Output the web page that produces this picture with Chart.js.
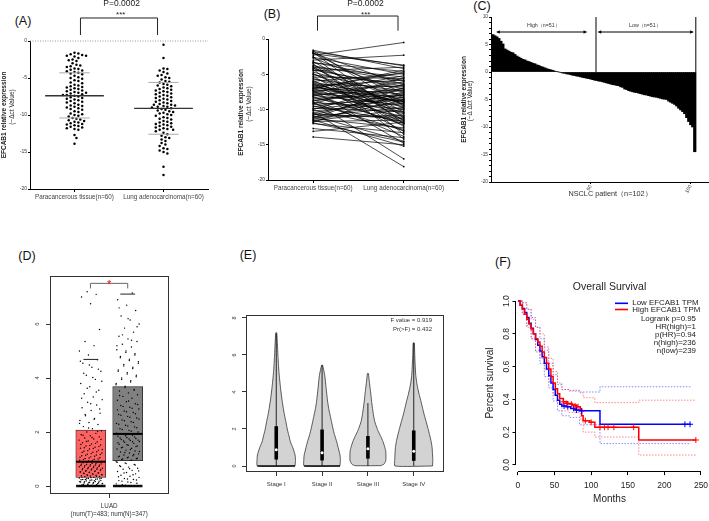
<!DOCTYPE html>
<html><head><meta charset="utf-8">
<script src="https://cdn.jsdelivr.net/npm/chart.js@4.4.1/dist/chart.umd.min.js"></script>
<style>
html,body{margin:0;padding:0;background:#fff}
body{width:709px;height:521px;position:relative;overflow:hidden;font-family:"Liberation Sans",Arial,sans-serif}
.pl{position:absolute;font-size:12.5px;color:#111;transform:translate(-50%,-50%);white-space:nowrap;line-height:1}
</style></head><body>
<div class="pl" style="left:23px;top:21px">(A)</div>
<div class="pl" style="left:272px;top:14px">(B)</div>
<div class="pl" style="left:482px;top:6px">(C)</div>
<div class="pl" style="left:27px;top:256px">(D)</div>
<div class="pl" style="left:248px;top:255px">(E)</div>
<div class="pl" style="left:503px;top:262px">(F)</div>
<script>
// ---------- DATA ----------
const A_CATS = ['Paracancerous tissue(n=60)', 'Lung adenocarcinoma(n=60)'];
const A_YT = [-20, -15, -10, -5, 0];
// paired samples (same order used in panel B)
const A_PARA = [-1.6,-1.7,-1.8,-1.9,-2.0,-2.0,-2.3,-2.5,-2.6,-2.7,-3.0,-3.2,-3.4,-3.5,-3.7,-3.8,-3.9,-4.0,-4.1,-4.2,-4.3,-4.5,-4.7,-4.9,-5.1,-5.3,-5.4,-5.6,-5.7,-5.9,-6.0,-6.1,-6.3,-6.4,-6.6,-6.7,-6.8,-6.9,-7.0,-7.1,-7.2,-7.3,-7.3,-7.4,-7.5,-7.6,-7.7,-7.8,-7.9,-8.0,-8.1,-8.3,-8.4,-8.6,-8.7,-8.9,-9.0,-9.2,-9.3,-9.5,-9.6,-9.8,-10.0,-10.1,-10.2,-10.4,-10.5,-10.6,-10.8,-10.9,-11.0,-11.1,-11.2,-11.3,-11.4,-11.5,-11.6,-11.7,-11.8,-12.0,-12.7,-13.1,-13.9,-2.1,-3.3,-6.2,-8.2,-9.9,-5.0,-7.0,-4.4,-9.1,-10.7,-8.8,-6.5,-11.9];
const A_LUNG = [-4.2,-9.5,-3.8,-11.2,-6.5,-8.4,-0.5,-12.0,-5.0,-7.6,-2.3,-10.4,-4.6,-13.5,-8.9,-6.0,-11.6,-5.4,-9.8,-7.1,-14.2,-4.0,-8.1,-10.9,-6.3,-12.4,-5.6,-9.2,-7.4,-11.9,-4.9,-8.6,-13.1,-6.8,-10.1,-5.8,-9.0,-7.8,-11.4,-4.4,-8.3,-14.8,-6.6,-9.6,-10.6,-5.2,-8.8,-12.2,-7.2,-9.4,-6.1,-11.0,-8.0,-13.8,-7.0,-17.0,-9.9,-5.5,-8.5,-11.7,-7.9,-10.3,-6.4,-12.8,-9.1,-18.1,-8.2,-11.3,-7.5,-14.5,-9.7,-10.8,-6.9,-12.6,-8.7,-15.2,-10.0,-11.5,-7.7,-13.3,-14.0,-11.8,-15.0,-3.7,-5.9,-10.5,-12.0,-8.6,-9.3,-4.7,-6.7,-13.0,-11.1,-7.3,-8.9,-14.6];
const A_MEAN = [-7.4, -9.1];
const A_SD_HI = [-4.3, -5.6];
const A_SD_LO = [-10.4, -12.6];
const P_TEXT = 'P=0.0002';

const C_VALUES = [6.8,6.6,6.4,6.1,5.6,5.1,4.2,4.0,3.8,3.6,3.5,3.2,2.9,2.7,2.5,2.3,2.2,2.0,1.9,1.75,1.6,1.5,1.3,1.2,1.0,0.9,0.75,0.6,0.5,0.4,0.3,0.15,0.1,0.0,-0.1,-0.2,-0.25,-0.35,-0.4,-0.5,-0.6,-0.65,-0.75,-0.8,-0.9,-1.0,-1.05,-1.15,-1.2,-1.3,-1.4,-1.5,-1.55,-1.65,-1.7,-1.8,-1.9,-2.0,-2.1,-2.2,-2.3,-2.35,-2.45,-2.5,-2.7,-2.8,-3.1,-3.2,-3.4,-3.5,-3.6,-3.7,-3.75,-3.85,-3.95,-4.05,-4.15,-4.2,-4.3,-4.4,-4.5,-4.55,-4.6,-4.7,-4.8,-4.9,-4.95,-5.0,-5.3,-5.5,-5.7,-5.9,-6.2,-6.6,-6.9,-7.2,-7.6,-8.3,-9.0,-9.6,-10.0,-14.5];
const C_XT = [50, 100];
const C_YT = [-20, -15, -10, -5, 0, 5, 10];

const D_TUMOR = [0,0,0,0,0,0,0,0,0,0,0,0,0,0,0,0,0.02,0.04,0.05,0.07,0.08,0.1,0.11,0.12,0.14,0.15,0.17,0.19,0.2,0.22,0.24,0.26,0.28,0.3,0.32,0.34,0.35,0.37,0.38,0.4,0.42,0.43,0.45,0.47,0.48,0.5,0.52,0.54,0.55,0.57,0.59,0.6,0.62,0.64,0.66,0.68,0.7,0.72,0.74,0.76,0.78,0.8,0.82,0.84,0.86,0.9,0.93,0.96,0.99,1.02,1.05,1.08,1.12,1.15,1.18,1.22,1.25,1.29,1.33,1.37,1.4,1.44,1.48,1.52,1.56,1.6,1.63,1.67,1.7,1.74,1.78,1.82,1.86,1.9,1.95,2.0,2.05,2.12,2.2,2.28,2.35,2.43,2.5,2.6,2.7,2.8,2.9,3.0,3.1,3.2,3.3,3.42,3.55,3.68,3.8,3.95,4.1,4.25,4.4,4.55,4.68,4.85,5.0,5.2,5.35,5.8,6.75,7.0,7.1,7.2,
  0,0,0,0,0,0,0,0,0,0,0.01,0.03,0.06,0.09,0.13,0.16,0.18,0.21,0.23,0.25,0.27,0.29,0.03,0.06,0.09,0.12,0.16,0.2,0.24,0.27,0.31,0.33,0.36,0.39,0.41,0.44,0.46,0.49,0.51,0.53,0.56,0.58,0.61,0.63,0.65,0.67,0.69,0.71,0.73,0.75,0.77,0.79,0.81,0.83,0.87,0.91,0.95,0.98,1.0,1.04,1.07,1.1,1.14,1.17,1.2,1.24,1.27,1.31,1.35,1.39,1.42,1.46,1.5,1.54,1.58,1.65,1.72,1.8,1.88,2.02,2.15,2.32,2.47,2.65,2.85,3.05,3.25,3.48,3.62,3.88,4.02,4.18,4.33,4.48,4.62];
const D_NORMAL = [0,0,0,0,0,0,0,0,0.05,0.1,0.15,0.2,0.24,0.28,0.32,0.36,0.4,0.45,0.5,0.54,0.58,0.62,0.66,0.7,0.75,0.8,0.85,0.9,0.95,0.98,1.01,1.05,1.08,1.12,1.15,1.19,1.22,1.26,1.3,1.33,1.37,1.4,1.44,1.48,1.51,1.55,1.58,1.62,1.65,1.69,1.72,1.76,1.8,1.84,1.88,1.93,2.0,2.06,2.12,2.19,2.25,2.32,2.38,2.45,2.52,2.58,2.65,2.72,2.78,2.85,2.92,2.98,3.05,3.12,3.18,3.25,3.32,3.38,3.45,3.52,3.58,3.65,3.75,3.85,3.95,4.05,4.15,4.25,4.35,4.45,4.55,4.65,4.75,4.85,4.95,5.05,5.15,5.25,5.35,5.45,5.55,5.7,5.85,6.0,6.15,6.3,6.5,6.7,6.9,7.15,
  0,0,0,0,0,0.03,0.08,0.13,0.18,0.22,0.26,0.34,0.42,0.48,0.56,0.64,0.72,0.78,0.83,0.88,0.96,1.0,1.03,1.07,1.1,1.17,1.24,1.28,1.35,1.42,1.46,1.53,1.6,1.64,1.67,1.7,1.74,1.78,1.82,1.86,1.96,2.03,2.09,2.16,2.22,2.29,2.35,2.42,2.48,2.55,2.62,2.68,2.75,2.82,2.88,2.95,3.02,3.15,3.35,3.55,3.7,3.8,3.9,4.0,4.1,4.2,4.3,4.4,4.5,4.6,4.7,4.8,4.9,5.0,5.2,5.4,5.6,5.9,6.2,6.6];
const D_Q1 = [0.32, 0.94];
const D_MED = [0.9, 1.93];
const D_Q3 = [2.07, 3.68];
const D_WHI = [4.69, 7.11];
const D_YT = [0, 2, 4, 6];
const D_XLABEL = ['LUAD', '(num(T)=483; num(N)=347)'];

const E_STAGES = ['Stage I', 'Stage II', 'Stage III', 'Stage IV'];
const E_YT = [0, 2, 4, 6, 8];
const E_Q1 = [0.35, 0.3, 0.4, 0.28];
const E_MED = [0.88, 0.72, 0.93, 0.8];
const E_Q3 = [2.15, 1.97, 1.62, 1.92];
const E_WTOP = [7.15, 5.45, 3.4, 6.65];
const E_V1_Y = [0,0.3,0.6,1.0,1.3,1.7,2.0,2.4,2.75,3.1,3.5,4.2,5.1,6.0,6.6,7.2];
const E_V1_W = [0.41,0.42,0.41,0.36,0.31,0.27,0.24,0.21,0.18,0.155,0.13,0.094,0.058,0.036,0.025,0.01];
const E_V2_Y = [0,0.3,0.6,1.0,1.3,1.7,2.0,2.4,2.75,3.1,3.5,4.2,4.9,5.45];
const E_V2_W = [0.39,0.4,0.39,0.35,0.32,0.27,0.24,0.205,0.175,0.145,0.12,0.088,0.058,0.01];
const E_V3_Y = [0.02,0.1,0.3,0.77,1.0,1.31,1.6,1.85,2.1,2.39,2.7,3.11,3.5,3.83,4.2,4.55,5.0];
const E_V3_W = [0.28,0.35,0.39,0.39,0.37,0.33,0.28,0.23,0.19,0.15,0.125,0.1,0.08,0.066,0.048,0.03,0.01];
const E_V4_Y = [0,0.3,0.6,1.0,1.31,1.7,2.03,2.4,2.75,3.1,3.47,3.8,4.19,4.5,4.9,5.5,6.1,6.65];
const E_V4_W = [0.41,0.415,0.41,0.4,0.38,0.345,0.31,0.27,0.23,0.195,0.16,0.125,0.088,0.065,0.044,0.03,0.02,0.012];
const E_STATS = ['F value = 0.919', 'Pr(>F) = 0.432'];

const F_XT = [0, 50, 100, 150, 200, 250];
const F_YT = [0, 0.2, 0.4, 0.6, 0.8, 1.0];
const LOW_T = [0,3,6,9,12,15,18,21,24,27,30,33,36,39,42,45,48,51,54,57,60,66,72,78,84,112,236];
const LOW_S = [1,0.975,0.955,0.93,0.9,0.865,0.835,0.8,0.765,0.73,0.695,0.66,0.62,0.585,0.545,0.5,0.46,0.425,0.395,0.37,0.36,0.355,0.345,0.335,0.33,0.248,0.248];
const HIGH_T = [0,3,6,9,12,15,18,21,24,27,30,33,36,39,42,45,48,51,54,57,62,68,74,80,85,87,89,98,105,165,243];
const HIGH_S = [1,0.975,0.95,0.92,0.89,0.86,0.83,0.8,0.77,0.75,0.725,0.69,0.655,0.62,0.585,0.54,0.5,0.465,0.435,0.405,0.385,0.375,0.365,0.355,0.34,0.3,0.27,0.26,0.23,0.152,0.152];
const LOW_CI_T = [0,6,12,18,24,30,36,42,48,54,60,70,84,112,236];
const LOW_CI_UP = [1,0.99,0.95,0.9,0.84,0.77,0.7,0.62,0.55,0.49,0.46,0.455,0.445,0.477,0.477];
const LOW_CI_LO = [1,0.92,0.85,0.77,0.69,0.62,0.54,0.47,0.39,0.33,0.3,0.29,0.245,0.13,0.13];
const HIGH_CI_T = [0,6,12,18,24,30,36,42,48,54,60,70,85,89,105,165,243];
const HIGH_CI_UP = [1,0.99,0.95,0.89,0.84,0.8,0.72,0.65,0.57,0.5,0.46,0.45,0.44,0.41,0.38,0.395,0.395];
const HIGH_CI_LO = [1,0.92,0.84,0.77,0.7,0.65,0.58,0.51,0.43,0.37,0.33,0.32,0.28,0.2,0.17,0.06,0.06];
const LOW_CENS_T = [63,68,76,80,87,228,235];
const LOW_CENS_S = [0.36,0.355,0.345,0.335,0.33,0.248,0.248];
const HIGH_CENS_T = [62,66,73,78,82,92,100,112,118,123,131,158,243];
const HIGH_CENS_S = [0.385,0.375,0.37,0.36,0.355,0.27,0.26,0.23,0.23,0.23,0.23,0.23,0.152];
const F_LEGEND = ['Low EFCAB1 TPM', 'High EFCAB1 TPM'];
const F_STATS = ['Logrank p=0.95', 'HR(high)=1', 'p(HR)=0.94', 'n(high)=236', 'n(low)=239'];

// ---------- HELPERS ----------
const FF = '"Liberation Sans", Arial, sans-serif';
const fnt = (s, w) => (w ? w + ' ' : '') + s + 'px ' + FF;
Chart.defaults.font.family = FF;
Chart.defaults.color = '#333';

function dm(a, b) { for (const k in b) { if (b[k] && typeof b[k] === 'object' && !Array.isArray(b[k]) && a[k] && typeof a[k] === 'object') dm(a[k], b[k]); else a[k] = b[k]; } return a; }
function axis(extra) {
  return dm({ type: 'linear', offset: false, border: { display: true, color: '#000', width: 1 },
    grid: { display: true, offset: false, drawOnChartArea: false, drawTicks: true, tickLength: 3, color: '#000', lineWidth: 1 },
    ticks: { autoSkip: false, maxRotation: 0, minRotation: 0, padding: 1, color: '#333', font: { size: 6 } } }, extra);
}
const setTicks = arr => s => { s.ticks = arr.map(v => ({ value: v })); };

function annoPlugin(items) {
  return { id: 'anno', afterDraw(chart) {
    const ctx = chart.ctx, xs = chart.scales.x, ys = chart.scales.y;
    const P = p => [p.px !== undefined ? p.px : xs.getPixelForValue(p.x), p.py !== undefined ? p.py : ys.getPixelForValue(p.y)];
    for (const it of items) {
      ctx.save();
      ctx.setLineDash(it.dash || []);
      ctx.strokeStyle = it.c || '#000'; ctx.fillStyle = it.c || '#000'; ctx.lineWidth = it.w || 1;
      if (it.t === 'frame') { const a = chart.chartArea; ctx.strokeRect(Math.round(a.left) + 0.5, Math.round(a.top) + 0.5, Math.round(a.right - a.left) - 1, Math.round(a.bottom - a.top) - 1); }
      else if (it.t === 'line') { ctx.beginPath(); it.pts.forEach((p, i) => { const q = P(p); i ? ctx.lineTo(q[0], q[1]) : ctx.moveTo(q[0], q[1]); }); ctx.stroke(); }
      else if (it.t === 'arrow') {
        const a = P(it.a), b = P(it.b), h = it.h || 4;
        ctx.beginPath(); ctx.moveTo(a[0], a[1]); ctx.lineTo(b[0], b[1]); ctx.stroke();
        [[a, b], [b, a]].forEach(([p, q]) => { const g = Math.atan2(q[1] - p[1], q[0] - p[0]);
          ctx.beginPath(); ctx.moveTo(p[0], p[1]); ctx.lineTo(p[0] + h * Math.cos(g + 0.5), p[1] + h * Math.sin(g + 0.5));
          ctx.lineTo(p[0] + h * Math.cos(g - 0.5), p[1] + h * Math.sin(g - 0.5)); ctx.closePath(); ctx.fill(); });
      }
      else if (it.t === 'text') { const q = P(it); ctx.font = it.f; ctx.textAlign = it.al || 'center'; ctx.textBaseline = 'middle';
        ctx.translate(q[0], q[1]); if (it.rot) ctx.rotate(it.rot * Math.PI / 180); ctx.fillText(it.s, 0, 0); }
      ctx.restore();
    }
  } };
}

function mk(x, y, w, h, area, cfg, items) {
  const c = document.createElement('canvas');
  c.width = w; c.height = h;
  c.style.cssText = 'position:absolute;left:' + x + 'px;top:' + y + 'px;width:' + w + 'px;height:' + h + 'px';
  document.body.appendChild(c);
  const [L, T, R, B] = area;
  const o = cfg.options;
  // Chart.js paints the last dataset first; reverse so list order = paint order (first = bottom)
  cfg.data.datasets.reverse();
  o.responsive = false; o.animation = false; o.devicePixelRatio = 1; o.events = [];
  o.layout = { padding: { left: 0, top: T, right: w - R, bottom: 0 } };
  o.plugins = { legend: { display: false }, tooltip: { enabled: false } };
  o.scales.x.afterFit = s => { s.height = h - B; s.paddingLeft = 0; s.paddingRight = 0; };
  o.scales.y.afterFit = s => { s.width = L; s.paddingTop = 0; s.paddingBottom = 0; };
  cfg.plugins = [annoPlugin(items || [])];
  return new Chart(c, cfg);
}
const hline = (x0, x1, yv, color, wd, extra) => Object.assign({ type: 'line', data: [{ x: x0, y: yv }, { x: x1, y: yv }], borderColor: color, borderWidth: wd, pointRadius: 0, fill: false }, extra || {});
const vline = (xv, y0, y1, color, wd, extra) => Object.assign({ type: 'line', data: [{ x: xv, y: y0 }, { x: xv, y: y1 }], borderColor: color, borderWidth: wd, pointRadius: 0, fill: false }, extra || {});

function swarm(vals, ppy, ppx, d) {
  const order = vals.map((v, i) => i).sort((a, b) => vals[b] - vals[a]);
  const placed = [], off = new Array(vals.length).fill(0);
  for (const i of order) {
    const py = vals[i] * ppy;
    for (let k = 0; k < 300; k++) {
      const cc = (k === 0 ? 0 : (k % 2 ? 1 : -1) * Math.ceil(k / 2)) * d * 0.55;
      let ok = true;
      for (const p of placed) { const dy = p[1] - py, dx = p[0] - cc; if (dx * dx + dy * dy < d * d) { ok = false; break; } }
      if (ok) { placed.push([cc, py]); off[i] = cc / ppx; break; }
    }
  }
  return off;
}

// ---------- PANEL A ----------
(function () {
  const oL = swarm(A_PARA, 7.4, 89, 3.5), oR = swarm(A_LUNG, 7.4, 89, 3.5);
  const ds = [
    hline(0.5, 2.5, 0, '#999', 1, { borderDash: [1, 1.5], clip: false }),
    { data: A_PARA.map((v, i) => ({ x: 1 + oL[i], y: v })), pointRadius: 1.25, backgroundColor: '#000', borderWidth: 0 },
    { data: A_LUNG.map((v, i) => ({ x: 2 + oR[i], y: v })), pointRadius: 1.25, backgroundColor: '#000', borderWidth: 0 }
  ];
  [0, 1].forEach(g => {
    const cx = g + 1;
    ds.push(hline(cx - 0.33, cx + 0.33, A_MEAN[g], '#333', 1.3));
    ds.push(hline(cx - 0.17, cx + 0.17, A_SD_HI[g], '#aaa', 1));
    ds.push(hline(cx - 0.17, cx + 0.17, A_SD_LO[g], '#aaa', 1));
  });
  mk(0, 0, 230, 215, [30, 41, 208, 189], { type: 'scatter', data: { datasets: ds }, options: { scales: {
    x: axis({ min: 0.5, max: 2.5, afterBuildTicks: setTicks([1, 2]), ticks: { callback: (v, i) => A_CATS[i], font: { size: 6.3 }, color: '#444', padding: 1 } }),
    y: axis({ min: -20, max: 0, afterBuildTicks: setTicks(A_YT), grid: { tickLength: 2 }, ticks: { callback: v => String(v), font: { size: 5 }, padding: 1 } })
  } } }, [
    { t: 'line', pts: [{ x: 1.067, y: 0.81 }, { x: 1.067, y: 3.11 }, { x: 1.933, y: 3.11 }, { x: 1.933, y: 0.81 }], c: '#222', w: 1 },
    { t: 'text', s: '***', x: 1.52, y: 3.55, f: fnt(8), c: '#222' },
    { t: 'text', s: P_TEXT, x: 1.53, y: 5.0, f: fnt(8.5), c: '#222' },
    { t: 'text', s: 'EFCAB1 relative expression', px: 4.5, py: 115, rot: -90, f: fnt(6.5, 'bold'), c: '#222' },
    { t: 'text', s: '(−Δct Value)', px: 12, py: 107, rot: -90, f: fnt(6.5), c: '#222' }
  ]);
})();

// ---------- PANEL B ----------
(function () {
  const ds = A_PARA.map((v, i) => ({ type: 'line', data: [{ x: 1, y: v }, { x: 2, y: A_LUNG[i] }], borderColor: '#000', borderWidth: 0.7,
    pointRadius: 1.1, pointStyle: 'rect', pointBackgroundColor: '#000', pointBorderWidth: 0, fill: false }));
  mk(230, 0, 240, 215, [38, 39, 228, 180], { type: 'scatter', data: { datasets: ds }, options: { scales: {
    x: axis({ min: 0.5, max: 2.6, afterBuildTicks: setTicks([1, 2]), ticks: { callback: (v, i) => A_CATS[i], font: { size: 6.3 }, color: '#444', padding: 1.5 } }),
    y: axis({ min: -20, max: 0, afterBuildTicks: setTicks(A_YT), grid: { tickLength: 2 }, ticks: { callback: v => String(v), font: { size: 5 }, padding: 1 } })
  } } }, [
    { t: 'line', pts: [{ x: 1.047, y: 1.18 }, { x: 1.047, y: 3.26 }, { x: 1.937, y: 3.26 }, { x: 1.937, y: 1.18 }], c: '#222', w: 1 },
    { t: 'text', s: '***', x: 1.58, y: 3.45, f: fnt(8), c: '#222' },
    { t: 'text', s: P_TEXT, x: 1.577, y: 4.96, f: fnt(8.5), c: '#222' },
    { t: 'text', s: 'EFCAB1 relative expression', px: 11.5, py: 112.5, rot: -90, f: fnt(6.5, 'bold'), c: '#222' },
    { t: 'text', s: '(−Δct Value)', px: 19, py: 104, rot: -90, f: fnt(6.5), c: '#222' }
  ]);
})();

// ---------- PANEL C ----------
(function () {
  const minor = []; for (let v = C_YT[0]; v <= C_YT[C_YT.length - 1]; v++) minor.push(v);
  mk(460, 0, 249, 215, [31, 17, 248, 182], { type: 'bar', data: { datasets: [
    { data: C_VALUES.map((v, i) => ({ x: i + 1, y: v })), backgroundColor: '#000', borderWidth: 0, barThickness: 2.3 }
  ] }, options: { scales: {
    x: axis({ min: 0, max: 108.7, afterBuildTicks: setTicks(C_XT), grid: { tickLength: 2 }, ticks: { minRotation: 60, maxRotation: 60, font: { size: 5 }, padding: 0, callback: v => String(v) } }),
    y: axis({ min: -20, max: 10, afterBuildTicks: setTicks(minor), grid: { tickLength: 2 }, ticks: { font: { size: 4.8 }, padding: 1, callback: v => (C_YT.includes(v) ? String(v) : '') } })
  } } }, [
    { t: 'line', pts: [{ x: 52.6, y: 0 }, { x: 52.6, y: 10 }], w: 1 },
    { t: 'line', pts: [{ x: 102.6, y: -14.5 }, { x: 102.6, y: 10 }], w: 1 },
    { t: 'arrow', a: { x: 2.85, y: 7.27 }, b: { x: 47.9, y: 7.27 }, w: 1, h: 3.5 },
    { t: 'arrow', a: { x: 53.7, y: 7.27 }, b: { x: 101.3, y: 7.27 }, w: 1, h: 3.5 },
    { t: 'text', s: 'High（n=51）', x: 26.2, y: 8.36, f: fnt(5.3), c: '#333' },
    { t: 'text', s: 'Low（n=51）', x: 77.1, y: 8.36, f: fnt(5.3), c: '#333' },
    { t: 'text', s: 'EFCAB1 relative expression', px: 4.5, py: 99.5, rot: -90, f: fnt(6.5, 'bold'), c: '#222' },
    { t: 'text', s: '(−Δ Δct Value)', px: 10.5, py: 101, rot: -90, f: fnt(6.3), c: '#222' },
    { t: 'text', s: 'NSCLC patient（n=102）', px: 150, py: 194, f: fnt(7.3), c: '#333' }
  ]);
})();

// ---------- PANEL D ----------
(function () {
  const jit = i => (((i * 0.6180339) % 1) - 0.5) * 0.64;
  const ds = [
    { type: 'bar', data: [{ x: 1, y: [D_Q1[0], D_Q3[0]] }], backgroundColor: '#FF6262', borderColor: '#222', borderWidth: 0.8, borderSkipped: false, barThickness: 30, grouped: false },
    { type: 'bar', data: [{ x: 2, y: [D_Q1[1], D_Q3[1]] }], backgroundColor: '#808080', borderColor: '#222', borderWidth: 0.8, borderSkipped: false, barThickness: 30, grouped: false }
  ];
  [0, 1].forEach(g => {
    const cx = g + 1;
    ds.push(hline(cx - 0.4, cx + 0.4, 0, '#111', 2.5));
  });
  ds.push({ data: D_TUMOR.map((v, i) => ({ x: 1 + jit(i + 1), y: v })), pointRadius: 0.72, backgroundColor: '#000', borderWidth: 0 });
  ds.push({ data: D_NORMAL.map((v, i) => ({ x: 2 + jit(i + 7), y: v })), pointRadius: 0.72, backgroundColor: '#000', borderWidth: 0 });
  [0, 1].forEach(g => {
    const cx = g + 1;
    ds.push(hline(cx - 0.4, cx + 0.4, D_MED[g], '#000', 2));
    ds.push(hline(cx - 0.2, cx + 0.2, D_WHI[g], '#222', 1));
  });
  mk(0, 255, 230, 266, [50, 21, 169, 239], { type: 'scatter', data: { datasets: ds }, options: { scales: {
    x: axis({ min: -0.106, max: 3.119, border: { display: false }, afterBuildTicks: setTicks([1.5]), grid: { tickLength: 4, color: '#333' },
      ticks: { callback: () => D_XLABEL, font: { size: 6.3, lineHeight: 1.3 }, padding: 4, color: '#333' } }),
    y: axis({ min: -0.296, max: 7.78, border: { display: false }, afterBuildTicks: setTicks(D_YT), grid: { tickLength: 4, color: '#333' },
      ticks: { minRotation: 90, maxRotation: 90, crossAlign: 'center', font: { size: 6 }, padding: 6.5, callback: v => String(v) } })
  } } }, [
    { t: 'frame', c: '#333', w: 1 },
    { t: 'line', pts: [{ x: 0.99, y: 7.32 }, { x: 0.99, y: 7.507 }, { x: 2.0, y: 7.507 }, { x: 2.0, y: 7.32 }], c: '#666', w: 1 },
    { t: 'text', s: '*', x: 1.5, y: 7.43, f: fnt(10, 'bold'), c: '#FF2A2A' }
  ]);
})();

// ---------- PANEL E ----------
(function () {
  const shape = (cx, ys, ws) => { const p = []; ys.forEach((y, i) => p.push({ x: cx + ws[i], y })); for (let i = ys.length - 1; i >= 0; i--) p.push({ x: cx - ws[i], y: ys[i] }); p.push({ x: cx + ws[0], y: ys[0] }); return p; };
  const V = [[E_V1_Y, E_V1_W], [E_V2_Y, E_V2_W], [E_V3_Y, E_V3_W], [E_V4_Y, E_V4_W]];
  const ds = [];
  V.forEach((v, i) => ds.push({ type: 'line', data: shape(i + 1, v[0], v[1]), fill: 'shape', backgroundColor: '#D3D3D3', borderColor: '#333', borderWidth: 0.8, pointRadius: 0, tension: 0.2 }));
  [0, 1].forEach(i => ds.push(hline(i + 1 - V[i][1][0], i + 1 + V[i][1][0], 0, '#111', 1.6)));
  E_STAGES.forEach((s, i) => {
    ds.push(vline(i + 1, 0, E_WTOP[i], '#111', 0.9));
    ds.push(vline(i + 1, E_Q1[i], E_Q3[i], '#000', 3.6, { borderCapStyle: 'butt' }));
  });
  ds.push({ data: E_MED.map((m, i) => ({ x: i + 1, y: m })), pointRadius: 1.5, backgroundColor: '#fff', borderWidth: 0 });
  mk(230, 255, 230, 266, [16, 60, 214, 217], { type: 'scatter', data: { datasets: ds }, options: { scales: {
    x: axis({ min: 0.34, max: 4.66, border: { display: false }, afterBuildTicks: setTicks([1, 2, 3, 4]), grid: { tickLength: 4, color: '#333' },
      ticks: { callback: (v, i) => E_STAGES[i], font: { size: 6 }, padding: 4.5, color: '#333' } }),
    y: axis({ min: -0.324, max: 8.16, border: { display: false }, afterBuildTicks: setTicks(E_YT), grid: { tickLength: 4, color: '#333' },
      ticks: { minRotation: 90, maxRotation: 90, crossAlign: 'center', font: { size: 5.5 }, padding: 6.3, callback: v => String(v) } })
  } } }, [
    { t: 'frame', c: '#333', w: 1 },
    { t: 'text', s: E_STATS[0], px: 202, py: 65, al: 'right', f: fnt(6), c: '#333' },
    { t: 'text', s: E_STATS[1], px: 202, py: 74, al: 'right', f: fnt(6), c: '#333' }
  ]);
})();

// ---------- PANEL F ----------
(function () {
  const pts = (T, S) => T.map((t, i) => ({ x: t, y: S[i] }));
  const band = (T, S, col) => ({ type: 'line', data: pts(T, S), stepped: true, borderColor: col, borderWidth: 0.8, borderDash: [1.5, 1.5], pointRadius: 0, fill: false });
  const ds = [
    band(LOW_CI_T, LOW_CI_UP, 'rgba(70,70,255,0.8)'),
    band(LOW_CI_T, LOW_CI_LO, 'rgba(70,70,255,0.8)'),
    band(HIGH_CI_T, HIGH_CI_UP, 'rgba(255,70,70,0.8)'),
    band(HIGH_CI_T, HIGH_CI_LO, 'rgba(255,70,70,0.8)'),
    { type: 'line', data: pts(LOW_T, LOW_S), stepped: true, borderColor: '#0000FF', borderWidth: 1.5, pointRadius: 0, fill: false },
    { type: 'line', data: pts(HIGH_T, HIGH_S), stepped: true, borderColor: '#FF0000', borderWidth: 1.5, pointRadius: 0, fill: false },
    { data: pts(LOW_CENS_T, LOW_CENS_S), pointStyle: 'cross', pointRadius: 3, borderColor: '#0000FF', borderWidth: 1 },
    { data: pts(HIGH_CENS_T, HIGH_CENS_S), pointStyle: 'cross', pointRadius: 3, borderColor: '#FF0000', borderWidth: 1 }
  ];
  const items = [
    // R-style axis lines spanning only the tick range
    { t: 'line', pts: [{ x: F_XT[0], py: 216.5 }, { x: F_XT[F_XT.length - 1], py: 216.5 }], c: '#000', w: 1 },
    { t: 'line', pts: [{ px: 55.5, y: F_YT[0] }, { px: 55.5, y: F_YT[F_YT.length - 1] }], c: '#000', w: 1 },
    { t: 'text', s: 'Overall Survival', px: 149.5, py: 32, f: fnt(10.5), c: '#222' },
    { t: 'text', s: 'Percent survival', px: 30, py: 128, rot: -90, f: fnt(10), c: '#222' },
    { t: 'text', s: 'Months', px: 149.5, py: 244.3, f: fnt(10), c: '#222' },
    { t: 'line', pts: [{ px: 155, py: 48.3 }, { px: 168, py: 48.3 }], c: '#0000FF', w: 1.6 },
    { t: 'line', pts: [{ px: 155, py: 54.5 }, { px: 168, py: 54.5 }], c: '#FF0000', w: 1.6 },
    { t: 'text', s: F_LEGEND[0], px: 172.3, py: 48.3, al: 'left', f: fnt(7.9), c: '#222' },
    { t: 'text', s: F_LEGEND[1], px: 172.3, py: 54.7, al: 'left', f: fnt(7.9), c: '#222' }
  ];
  const sy = [64.3, 72.3, 80, 87.7, 95.7];
  F_STATS.forEach((s, i) => items.push({ t: 'text', s, px: 236, py: sy[i], al: 'right', f: fnt(7.9), c: '#222' }));
  mk(460, 255, 249, 266, [56, 39.4, 244, 216.6], { type: 'scatter', data: { datasets: ds }, options: { scales: {
    x: axis({ min: -2.7, max: 254.1, border: { display: false }, afterBuildTicks: setTicks(F_XT), grid: { tickLength: 3.5 }, ticks: { font: { size: 8.5 }, padding: 5.5, color: '#222', callback: v => String(v) } }),
    y: axis({ min: -0.041, max: 1.041, border: { display: false }, afterBuildTicks: setTicks(F_YT), grid: { tickLength: 3.5 },
      ticks: { minRotation: 90, maxRotation: 90, crossAlign: 'center', font: { size: 8.5 }, padding: -0.5, color: '#222', callback: v => v.toFixed(1) } })
  } } }, items);
})();
</script>
</body></html>
